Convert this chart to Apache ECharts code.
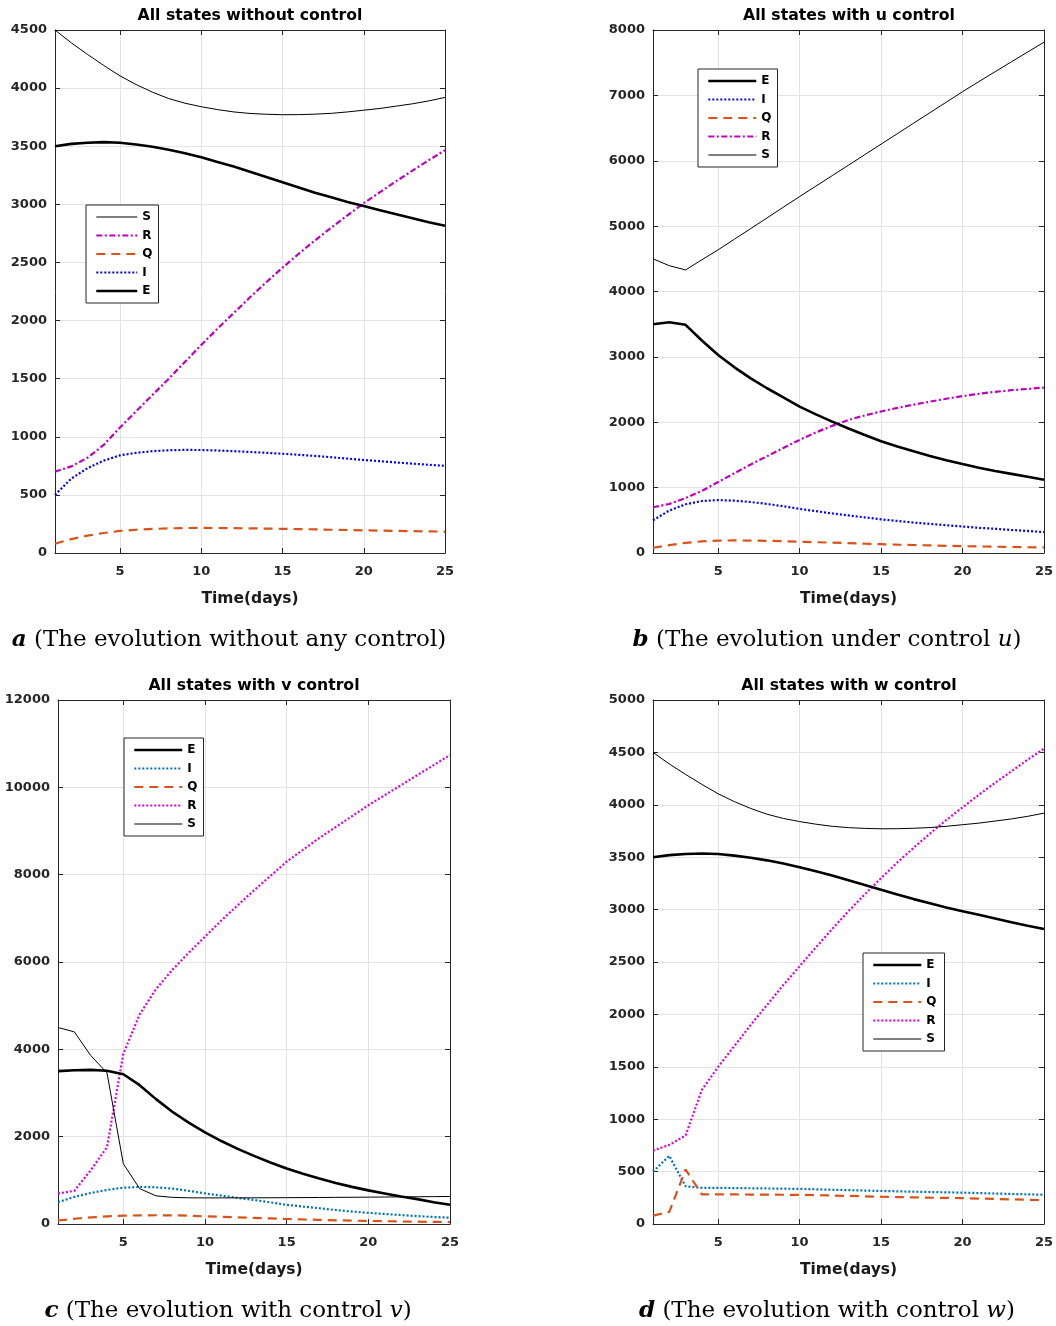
<!DOCTYPE html>
<html><head><meta charset="utf-8">
<script src="https://cdn.jsdelivr.net/npm/echarts@6/dist/echarts.min.js"></script>
<style>html,body{margin:0;padding:0;background:#fff}#c{width:1056px;height:1326px}</style>
</head><body><div id="c"></div>
<script>
const days = [1,2,3,4,5,6,7,8,9,10,11,12,13,14,15,16,17,18,19,20,21,22,23,24,25];
const xTickValues = [5,10,15,20,25];

// Panel a: without control
const aS = [4500,4390,4290,4195,4105,4030,3965,3910,3870,3840,3815,3795,3782,3775,3771,3772,3776,3783,3795,3810,3825,3845,3865,3890,3920];
const aE = [3500,3520,3530,3535,3530,3515,3495,3470,3440,3405,3365,3325,3280,3235,3190,3145,3100,3060,3020,2985,2950,2915,2880,2845,2815];
const aR = [700,745,820,930,1080,1220,1360,1500,1645,1790,1930,2065,2200,2330,2455,2575,2690,2800,2905,3010,3105,3200,3290,3380,3465];
const aI = [500,640,730,795,840,862,876,884,887,886,882,876,869,862,854,845,835,824,812,800,790,779,769,759,750];
const aQ = [80,120,150,172,190,200,207,212,215,216,215,214,212,210,208,206,203,200,198,195,193,190,188,186,184];

// Panel b: control u
const bS = [4500,4395,4330,4485,4638,4800,4962,5125,5290,5452,5612,5772,5932,6093,6254,6414,6575,6735,6895,7056,7210,7362,7513,7663,7813];
const bE = [3500,3530,3490,3250,3030,2840,2670,2520,2380,2240,2120,2010,1905,1805,1710,1630,1555,1485,1420,1360,1305,1255,1210,1165,1120];
const bR = [700,750,840,950,1085,1220,1355,1480,1605,1730,1845,1945,2035,2105,2165,2220,2270,2315,2360,2400,2435,2465,2490,2510,2530];
const bI = [500,650,745,795,810,800,780,750,715,675,640,605,575,545,515,490,465,445,425,405,385,370,352,337,320];
const bQ = [80,120,155,178,190,192,190,186,180,172,165,158,150,142,135,128,122,116,110,105,100,96,92,88,85];

// Panel c: control v
const cS = [4500,4400,3860,3460,1380,810,645,610,600,598,598,598,600,601,603,605,607,610,612,615,618,621,624,627,630];
const cE = [3500,3520,3530,3510,3430,3180,2860,2570,2320,2100,1900,1720,1560,1410,1270,1150,1040,940,850,770,700,630,570,500,440];
const cR = [700,760,1230,1760,3900,4800,5380,5820,6210,6580,6950,7300,7640,7970,8300,8570,8840,9090,9340,9590,9820,10050,10280,10510,10740];
const cI = [500,620,710,780,830,850,840,810,760,700,650,600,550,495,440,400,360,320,285,255,230,205,180,160,145];
const cQ = [80,120,150,175,190,198,200,198,190,175,165,152,140,128,115,104,94,85,77,70,64,58,53,49,45];

// Panel d: control w
const dS = [4500,4390,4290,4195,4105,4030,3965,3910,3870,3840,3815,3795,3782,3775,3771,3772,3776,3783,3795,3810,3825,3845,3865,3890,3920];
const dE = [3500,3520,3530,3535,3530,3515,3495,3470,3440,3405,3365,3325,3280,3235,3190,3145,3100,3060,3020,2985,2950,2915,2880,2845,2815];
const dR = [700,755,845,1280,1500,1700,1900,2090,2280,2460,2640,2815,2985,3145,3300,3450,3590,3725,3855,3975,4095,4210,4320,4430,4535];
const dI = [500,650,360,345,345,343,341,339,337,335,331,327,323,319,315,312,308,305,302,299,295,291,287,283,279];
const dQ = [80,115,520,282,282,282,281,280,279,278,275,272,268,264,260,257,254,251,249,247,243,239,235,231,228];

const titles = ['All states without control','All states with u control','All states with v control','All states with w control'];
const captions = ['{b|a} (The evolution without any control)','{b|b} (The evolution under control {i|u})','{b|c} (The evolution with control {i|v})','{b|d} (The evolution with control {i|w})'];
const xName = 'Time(days)';

const panels = [
  {key:'a', grid:{left:55,top:30,width:390,height:523}, yMax:4500, yStep:500, data:{S:aS,E:aE,R:aR,I:aI,Q:aQ},
   blue:'#0000FF', rType:[6,2.5,2,2.5], rColor:'#C000C0', legend:{left:86,top:205,order:['S','R','Q','I','E'],w:41,pr:6}, titleTop:8, capX:229, capTop:629},
  {key:'b', grid:{left:653,top:30,width:392,height:523}, yMax:8000, yStep:1000, data:{S:bS,E:bE,R:bR,I:bI,Q:bQ},
   blue:'#0000FF', rType:[6,2.5,2,2.5], rColor:'#C000C0', legend:{left:698,top:69,order:['E','I','Q','R','S'],w:48,pr:6}, titleTop:8, capX:827, capTop:629},
  {key:'c', grid:{left:58,top:700,width:392,height:524}, yMax:12000, yStep:2000, data:{S:cS,E:cE,R:cR,I:cI,Q:cQ},
   blue:'#0072BD', rType:[2,2], rColor:'#DD00DD', legend:{left:124,top:738,order:['E','I','Q','R','S'],w:48,pr:6}, titleTop:678, capX:228, capTop:1300},
  {key:'d', grid:{left:653,top:700,width:392,height:524}, yMax:5000, yStep:500, data:{S:dS,E:dE,R:dR,I:dI,Q:dQ},
   blue:'#0072BD', rType:[2,2], rColor:'#DD00DD', legend:{left:863,top:953,order:['E','I','Q','R','S'],w:48,pr:8}, titleTop:678, capX:827, capTop:1300}
];

const axisColor = '#262626';
const sans = 'DejaVu Sans';
const option = {animation:false, backgroundColor:'#fff', grid:[], xAxis:[], yAxis:[], series:[], title:[], legend:[]};

panels.forEach((p, gi) => {
  option.grid.push(Object.assign({containLabel:false, show:false}, p.grid));
  const xBase = {type:'value', gridIndex:gi, min:1, max:25,
    axisLine:{show:true, onZero:false, lineStyle:{color:axisColor, width:1}},
    axisTick:{show:true, inside:true, length:5, customValues:xTickValues, lineStyle:{color:axisColor}},
    axisLabel:{show:true, customValues:xTickValues, margin:12, color:axisColor, fontFamily:sans, fontWeight:'bold', fontSize:13, formatter:v => String(v)},
    splitLine:{show:true, lineStyle:{color:'#e3e3e3', width:1}}};
  option.xAxis.push(Object.assign({}, xBase, {position:'bottom', name:xName, nameLocation:'middle', nameGap:38,
    nameTextStyle:{color:'#1a1a1a', fontFamily:sans, fontWeight:'bold', fontSize:15.5}}));
  option.xAxis.push(Object.assign({}, xBase, {position:'top', axisLabel:{show:false, customValues:xTickValues}, splitLine:{show:false}}));
  const yBase = {type:'value', gridIndex:gi, min:0, max:p.yMax, interval:p.yStep,
    axisLine:{show:true, onZero:false, lineStyle:{color:axisColor, width:1}},
    axisTick:{show:true, inside:true, length:5, lineStyle:{color:axisColor}},
    axisLabel:{show:true, margin:8, color:axisColor, fontFamily:sans, fontWeight:'bold', fontSize:13, formatter:v => String(v)},
    splitLine:{show:true, lineStyle:{color:'#e3e3e3', width:1}}};
  option.yAxis.push(Object.assign({}, yBase, {position:'left'}));
  option.yAxis.push(Object.assign({}, yBase, {position:'right', axisLabel:{show:false}, splitLine:{show:false}}));

  const styles = {
    E:{color:'#000000', width:2.6, type:'solid'},
    I:{color:p.blue, width:2.2, type:[2,2]},
    Q:{color:'#D95319', width:2.2, type:[9,6]},
    R:{color:p.rColor, width:2.2, type:p.rType},
    S:{color:'#000000', width:1, type:'solid'}
  };
  ['S','E','R','I','Q'].forEach(k => {
    const arr = p.data[k];
    option.series.push({
      name:k + '_' + p.key, type:'line', xAxisIndex:2*gi, yAxisIndex:2*gi, symbol:'none', showSymbol:false, smooth:false,
      color:styles[k].color,
      lineStyle:{color:styles[k].color, width:styles[k].width, type:styles[k].type},
      data:days.map((d,i) => [d, arr[i]]), z: k==='S'||k==='E' ? 3 : 2
    });
  });

  option.title.push({text:titles[gi], left:p.grid.left + p.grid.width/2, top:p.titleTop, textAlign:'center', padding:0,
    textStyle:{color:'#000', fontFamily:sans, fontWeight:'bold', fontSize:15.7}});
  option.title.push({text:captions[gi], left:p.capX, top:p.capTop, textAlign:'center', padding:0,
    textStyle:{color:'#000', fontFamily:'DejaVu Serif', fontWeight:'normal', fontSize:23,
      rich:{b:{fontFamily:'DejaVu Serif', fontStyle:'italic', fontWeight:'bold', fontSize:23, color:'#000'},
            i:{fontFamily:'DejaVu Serif', fontStyle:'italic', fontWeight:'normal', fontSize:23, color:'#000'}}}});

  option.legend.push({left:p.legend.left, top:p.legend.top, orient:'vertical',
    data:p.legend.order.map(n => ({name:n + '_' + p.key,
      lineStyle:{color:styles[n].color, width:styles[n].width, type:styles[n].type},
      itemStyle:{color:'rgba(0,0,0,0)', opacity:0, borderWidth:0}})),
    formatter:n => n.split('_')[0], itemWidth:p.legend.w, itemHeight:14, itemGap:6.5, padding:[6,p.legend.pr,6,9],
    borderColor:axisColor, borderWidth:1, backgroundColor:'#fff', selectedMode:false,
    itemStyle:{color:'rgba(0,0,0,0)', opacity:0, borderWidth:0},
    textStyle:{color:'#000', fontFamily:sans, fontWeight:'bold', fontSize:12}});
});

const chart = echarts.init(document.getElementById('c'), null, {renderer:'canvas'});
chart.setOption(option);
</script>
</body></html>
